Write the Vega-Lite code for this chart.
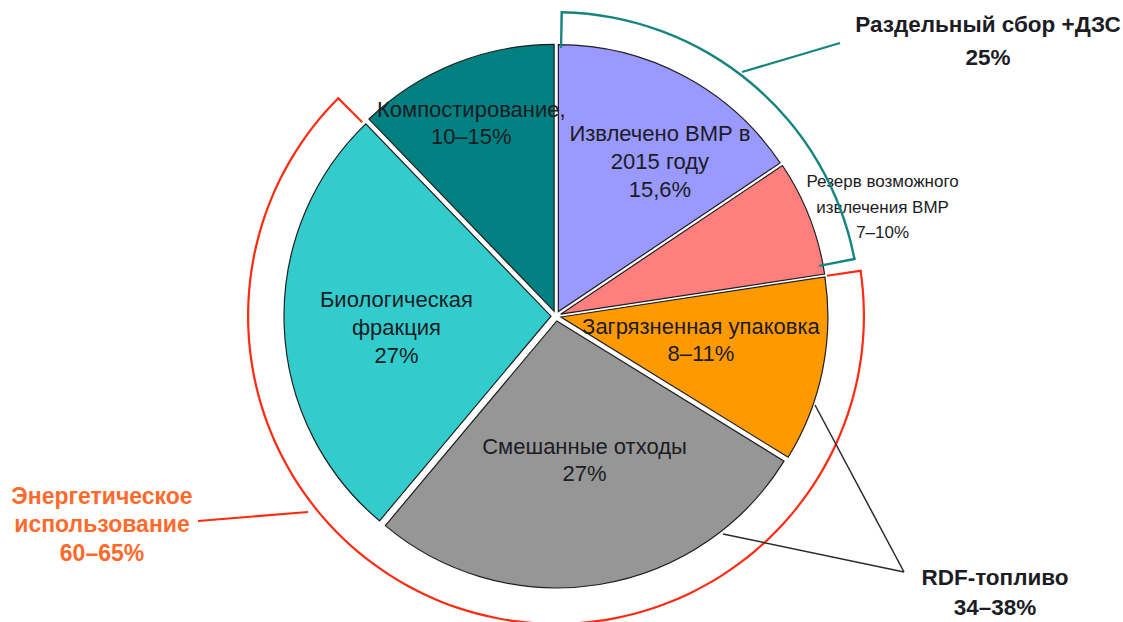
{
  "$schema": "https://vega.github.io/schema/vega-lite/v6.json",
  "width": 1123,
  "height": 622,
  "padding": 0,
  "autosize": {"type": "none"},
  "background": "white",
  "config": {"view": {"stroke": null}, "font": "Liberation Sans"},
  "datasets": {
    "slices": [
      {"k": 1, "name": "Извлечено ВМР в 2015 году", "value": 15.6, "label": "Извлечено ВМР в\n2015 году\n15,6%"},
      {"k": 2, "name": "Резерв возможного извлечения ВМР", "value": 7.0, "label": "Резерв возможного\nизвлечения ВМР\n7–10%"},
      {"k": 3, "name": "Загрязненная упаковка", "value": 11.2, "label": "Загрязненная упаковка\n8–11%"},
      {"k": 4, "name": "Смешанные отходы", "value": 27.3, "label": "Смешанные отходы\n27%"},
      {"k": 5, "name": "Биологическая фракция", "value": 26.7, "label": "Биологическая\nфракция\n27%"},
      {"k": 6, "name": "Компостирование", "value": 12.2, "label": "Компостирование,\n10–15%"}
    ],
    "brackets": [
      {"group": "Раздельный сбор +ДЗС", "from": 0.3, "to": 22.0},
      {"group": "Энергетическое использование", "from": 22.65, "to": 87.5}
    ],
    "leaders": [
      {"group": "Раздельный сбор +ДЗС", "x": 0.6889, "y": 0.9037, "x2": 1.0519, "y2": 1.0111},
      {"group": "Энергетическое использование", "x": -0.9185, "y": -0.7259, "x2": -1.3259, "y2": -0.7593},
      {"group": "RDF-топливо", "x": 0.9593, "y": -0.3296, "x2": 1.2889, "y2": -0.9481},
      {"group": "RDF-топливо", "x": 0.6185, "y": -0.8074, "x2": 1.2889, "y2": -0.9481}
    ],
    "callouts": [
      {"group": "Раздельный сбор +ДЗС", "label": "Раздельный сбор +ДЗС\n25%"},
      {"group": "Энергетическое использование", "label": "Энергетическое\nиспользование\n60–65%"},
      {"group": "RDF-топливо", "label": "RDF-топливо\n34–38%"}
    ]
  },
  "layer": [
    {
      "data": {"name": "slices"},
      "transform": [
        {"window": [{"op": "sum", "field": "value", "as": "cum"}], "sort": [{"field": "k"}], "frame": [null, 0]},
        {"calculate": "datum.cum - datum.value", "as": "start"},
        {"calculate": "datum.cum - datum.value / 2", "as": "mid"},
        {"calculate": "0.0185 * sin(datum.mid / 50 * PI)", "as": "ox"},
        {"calculate": "0.0185 * cos(datum.mid / 50 * PI)", "as": "oy"}
      ],
      "layer": [
        {
          "mark": {"type": "arc", "outerRadius": 267, "stroke": "#1e1e1e", "strokeWidth": 1.2},
          "encoding": {
            "x": {"field": "ox", "type": "quantitative", "scale": {"domain": [-2.05926, 2.1], "nice": false, "zero": false}, "axis": null},
            "y": {"field": "oy", "type": "quantitative", "scale": {"domain": [-1.13333, 1.17037], "nice": false, "zero": false}, "axis": null},
            "theta": {"field": "start", "type": "quantitative", "stack": null, "scale": {"domain": [0, 100]}},
            "theta2": {"field": "cum"},
            "fill": {
              "field": "name", "type": "nominal", "legend": null,
              "scale": {
                "domain": ["Извлечено ВМР в 2015 году", "Резерв возможного извлечения ВМР", "Загрязненная упаковка", "Смешанные отходы", "Биологическая фракция", "Компостирование"],
                "range": ["#9999ff", "#ff7f7f", "#ff9900", "#969696", "#33cccc", "#008080"]
              }
            }
          }
        },
        {
          "transform": [{"filter": "datum.k === 1"}],
          "mark": {"type": "text", "radius": 186, "thetaOffset": 0.103, "dy": -28, "lineBreak": "\n", "fontSize": 22, "lineHeight": 28, "fill": "#1c1c24", "align": "center", "baseline": "middle"},
          "encoding": {
            "x": {"datum": 0, "type": "quantitative", "scale": {"domain": [-2.05926, 2.1], "nice": false, "zero": false}, "axis": null},
            "y": {"datum": 0, "type": "quantitative", "scale": {"domain": [-1.13333, 1.17037], "nice": false, "zero": false}, "axis": null},
            "theta": {"field": "mid", "type": "quantitative", "stack": null, "scale": {"domain": [0, 100]}},
            "text": {"field": "label"}
          }
        },
        {
          "transform": [{"filter": "datum.k === 2"}],
          "mark": {"type": "text", "radius": 344, "thetaOffset": 0.0513, "dy": -25.5, "lineBreak": "\n", "fontSize": 17, "lineHeight": 25.5, "fill": "#1c1c24", "align": "center", "baseline": "middle"},
          "encoding": {
            "x": {"datum": 0, "type": "quantitative", "scale": {"domain": [-2.05926, 2.1], "nice": false, "zero": false}, "axis": null},
            "y": {"datum": 0, "type": "quantitative", "scale": {"domain": [-1.13333, 1.17037], "nice": false, "zero": false}, "axis": null},
            "theta": {"field": "mid", "type": "quantitative", "stack": null, "scale": {"domain": [0, 100]}},
            "text": {"field": "label"}
          }
        },
        {
          "transform": [{"filter": "datum.k === 3 || datum.k === 4"}],
          "mark": {"type": "text", "radius": 147, "thetaOffset": -0.035, "dy": -13.5, "lineBreak": "\n", "fontSize": 22, "lineHeight": 27, "fill": "#1c1c24", "align": "center", "baseline": "middle"},
          "encoding": {
            "x": {"datum": 0, "type": "quantitative", "scale": {"domain": [-2.05926, 2.1], "nice": false, "zero": false}, "axis": null},
            "y": {"datum": 0, "type": "quantitative", "scale": {"domain": [-1.13333, 1.17037], "nice": false, "zero": false}, "axis": null},
            "theta": {"field": "mid", "type": "quantitative", "stack": null, "scale": {"domain": [0, 100]}},
            "text": {"field": "label"}
          }
        },
        {
          "transform": [{"filter": "datum.k === 5"}],
          "mark": {"type": "text", "radius": 160, "thetaOffset": -0.0405, "dy": -28, "lineBreak": "\n", "fontSize": 22, "lineHeight": 28, "fill": "#1c1c24", "align": "center", "baseline": "middle"},
          "encoding": {
            "x": {"datum": 0, "type": "quantitative", "scale": {"domain": [-2.05926, 2.1], "nice": false, "zero": false}, "axis": null},
            "y": {"datum": 0, "type": "quantitative", "scale": {"domain": [-1.13333, 1.17037], "nice": false, "zero": false}, "axis": null},
            "theta": {"field": "mid", "type": "quantitative", "stack": null, "scale": {"domain": [0, 100]}},
            "text": {"field": "label"}
          }
        },
        {
          "transform": [{"filter": "datum.k === 6"}],
          "mark": {"type": "text", "radius": 210, "thetaOffset": -0.032, "dy": -13.5, "lineBreak": "\n", "fontSize": 22, "lineHeight": 27, "fill": "#1c1c24", "align": "center", "baseline": "middle"},
          "encoding": {
            "x": {"datum": 0, "type": "quantitative", "scale": {"domain": [-2.05926, 2.1], "nice": false, "zero": false}, "axis": null},
            "y": {"datum": 0, "type": "quantitative", "scale": {"domain": [-1.13333, 1.17037], "nice": false, "zero": false}, "axis": null},
            "theta": {"field": "mid", "type": "quantitative", "stack": null, "scale": {"domain": [0, 100]}},
            "text": {"field": "label"}
          }
        }
      ]
    },
    {
      "data": {"name": "brackets"},
      "transform": [{"filter": "datum.group === 'Раздельный сбор +ДЗС'"}],
      "layer": [
        {
          "mark": {"type": "arc", "radius": 305, "radius2": 302.6, "fill": "#17857f"},
          "encoding": {
            "x": {"datum": 0, "type": "quantitative", "scale": {"domain": [-2.05926, 2.1], "nice": false, "zero": false}, "axis": null},
            "y": {"datum": 0, "type": "quantitative", "scale": {"domain": [-1.13333, 1.17037], "nice": false, "zero": false}, "axis": null},
            "theta": {"field": "from", "type": "quantitative", "stack": null, "scale": {"domain": [0, 100]}},
            "theta2": {"field": "to"}
          }
        },
        {
          "transform": [{"fold": ["from", "to"], "as": ["end", "ang"]}],
          "mark": {"type": "arc", "radius": 305, "radius2": 268, "fill": "#17857f", "thetaOffset": -0.0042, "theta2Offset": 0.0042},
          "encoding": {
            "x": {"datum": 0, "type": "quantitative", "scale": {"domain": [-2.05926, 2.1], "nice": false, "zero": false}, "axis": null},
            "y": {"datum": 0, "type": "quantitative", "scale": {"domain": [-1.13333, 1.17037], "nice": false, "zero": false}, "axis": null},
            "theta": {"field": "ang", "type": "quantitative", "stack": null, "scale": {"domain": [0, 100]}},
            "theta2": {"field": "ang"}
          }
        }
      ]
    },
    {
      "data": {"name": "brackets"},
      "transform": [{"filter": "datum.group === 'Энергетическое использование'"}],
      "layer": [
        {
          "mark": {"type": "arc", "radius": 309, "radius2": 306.8, "fill": "#ff2a10"},
          "encoding": {
            "x": {"datum": 0, "type": "quantitative", "scale": {"domain": [-2.05926, 2.1], "nice": false, "zero": false}, "axis": null},
            "y": {"datum": 0, "type": "quantitative", "scale": {"domain": [-1.13333, 1.17037], "nice": false, "zero": false}, "axis": null},
            "theta": {"field": "from", "type": "quantitative", "stack": null, "scale": {"domain": [0, 100]}},
            "theta2": {"field": "to"}
          }
        },
        {
          "transform": [{"fold": ["from", "to"], "as": ["end", "ang"]}],
          "mark": {"type": "arc", "radius": 309, "radius2": 274, "fill": "#ff2a10", "thetaOffset": -0.0038, "theta2Offset": 0.0038},
          "encoding": {
            "x": {"datum": 0, "type": "quantitative", "scale": {"domain": [-2.05926, 2.1], "nice": false, "zero": false}, "axis": null},
            "y": {"datum": 0, "type": "quantitative", "scale": {"domain": [-1.13333, 1.17037], "nice": false, "zero": false}, "axis": null},
            "theta": {"field": "ang", "type": "quantitative", "stack": null, "scale": {"domain": [0, 100]}},
            "theta2": {"field": "ang"}
          }
        }
      ]
    },
    {
      "data": {"name": "leaders"},
      "mark": {"type": "rule"},
      "encoding": {
        "x": {"field": "x", "type": "quantitative", "scale": {"domain": [-2.05926, 2.1], "nice": false, "zero": false}, "axis": null},
        "y": {"field": "y", "type": "quantitative", "scale": {"domain": [-1.13333, 1.17037], "nice": false, "zero": false}, "axis": null},
        "x2": {"field": "x2"},
        "y2": {"field": "y2"},
        "stroke": {
          "condition": [
            {"test": "datum.group === 'Раздельный сбор +ДЗС'", "value": "#17857f"},
            {"test": "datum.group === 'Энергетическое использование'", "value": "#ff2a10"}
          ],
          "value": "#2b2b2b"
        },
        "strokeWidth": {"condition": {"test": "datum.group === 'RDF-топливо'", "value": 1.5}, "value": 2.2}
      }
    },
    {
      "data": {"name": "callouts"},
      "transform": [{"filter": "datum.group === 'Раздельный сбор +ДЗС'"}],
      "mark": {"type": "text", "lineBreak": "\n", "dy": -16.5, "fontSize": 22.5, "fontWeight": "bold", "lineHeight": 33, "fill": "#1c1c24", "align": "center", "baseline": "middle"},
      "encoding": {
        "x": {"datum": 1.6, "type": "quantitative", "scale": {"domain": [-2.05926, 2.1], "nice": false, "zero": false}, "axis": null},
        "y": {"datum": 1.0167, "type": "quantitative", "scale": {"domain": [-1.13333, 1.17037], "nice": false, "zero": false}, "axis": null},
        "text": {"field": "label"}
      }
    },
    {
      "data": {"name": "callouts"},
      "transform": [{"filter": "datum.group === 'Энергетическое использование'"}],
      "mark": {"type": "text", "lineBreak": "\n", "dy": -28.5, "fontSize": 23, "fontWeight": "bold", "lineHeight": 28.5, "fill": "#ff6a2c", "align": "center", "baseline": "middle"},
      "encoding": {
        "x": {"datum": -1.6815, "type": "quantitative", "scale": {"domain": [-2.05926, 2.1], "nice": false, "zero": false}, "axis": null},
        "y": {"datum": -0.7759, "type": "quantitative", "scale": {"domain": [-1.13333, 1.17037], "nice": false, "zero": false}, "axis": null},
        "text": {"field": "label"}
      }
    },
    {
      "data": {"name": "callouts"},
      "transform": [{"filter": "datum.group === 'RDF-топливо'"}],
      "mark": {"type": "text", "lineBreak": "\n", "dy": -15, "fontSize": 22.5, "fontWeight": "bold", "lineHeight": 30, "fill": "#1c1c24", "align": "center", "baseline": "middle"},
      "encoding": {
        "x": {"datum": 1.6259, "type": "quantitative", "scale": {"domain": [-2.05926, 2.1], "nice": false, "zero": false}, "axis": null},
        "y": {"datum": -1.0259, "type": "quantitative", "scale": {"domain": [-1.13333, 1.17037], "nice": false, "zero": false}, "axis": null},
        "text": {"field": "label"}
      }
    }
  ]
}
